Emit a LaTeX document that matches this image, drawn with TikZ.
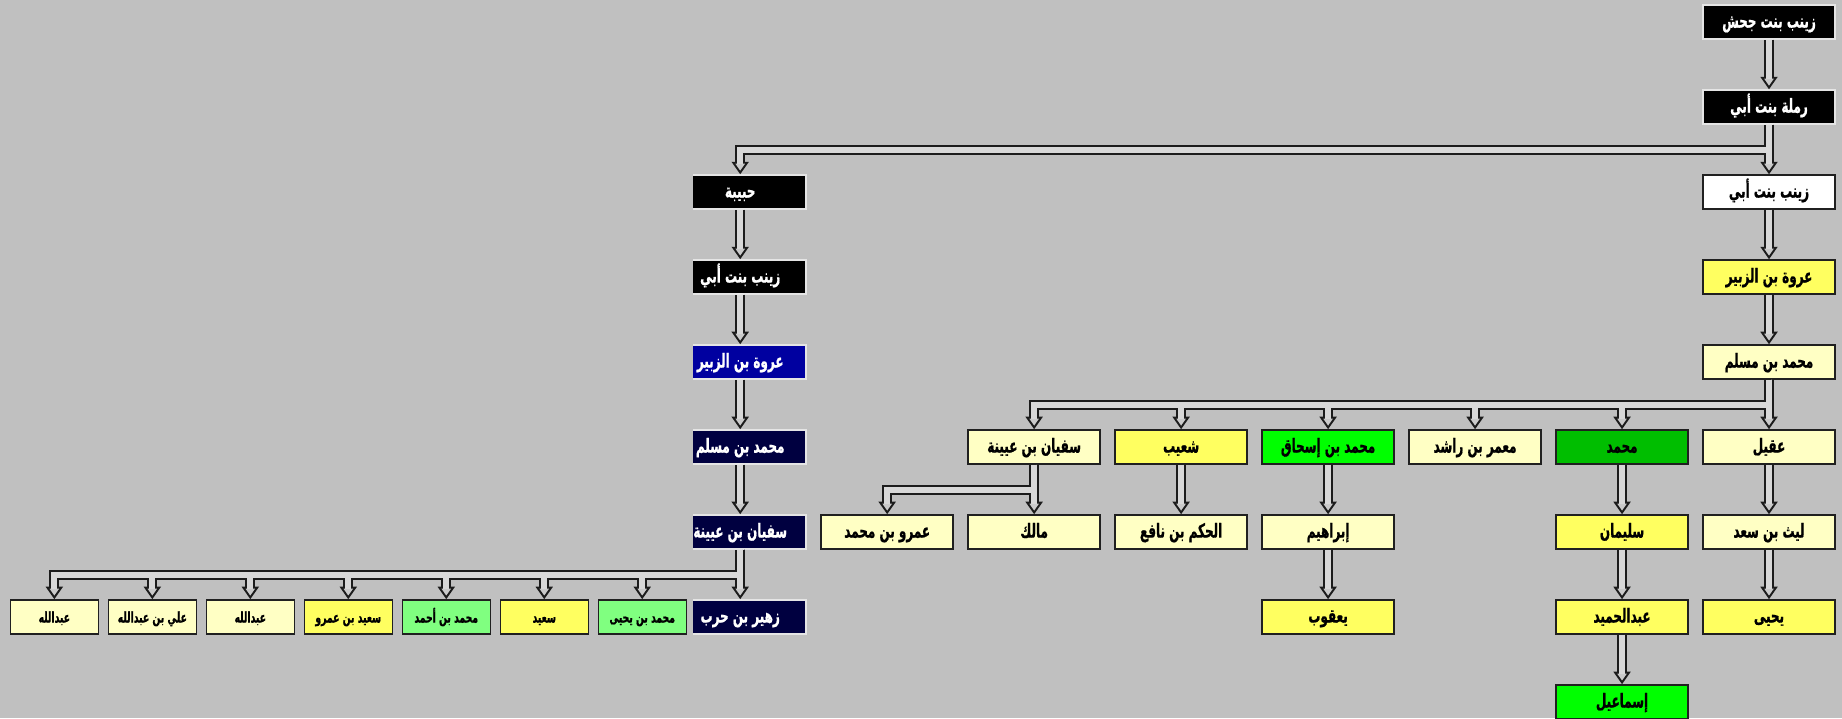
\documentclass[tikz,border=0pt]{standalone}
\usepackage{fontspec}
\newfontfamily\arabicfont[Script=Arabic, FakeStretch=0.62, BoldFeatures={FakeBold=0.8}]{DejaVu Sans}
\TeXXeTstate=1
\usetikzlibrary{arrows.meta}

\definecolor{bg}{HTML}{C0C0C0}
\definecolor{paleyellow}{HTML}{FFFFC4}
\definecolor{brightyellow}{HTML}{FFFF60}
\definecolor{darkgreen}{HTML}{00BE00}
\definecolor{limegreen}{HTML}{00FF00}
\definecolor{palegreen}{HTML}{80FF80}
\definecolor{royal}{HTML}{0000A0}
\definecolor{navyblue}{HTML}{000040}
\definecolor{pipeout}{HTML}{1C1C1C}
\definecolor{pipein}{HTML}{D8D8D8}
\definecolor{tipfill}{HTML}{CACACA}
\definecolor{boxline}{HTML}{202020}

\newcommand{\artext}[1]{\beginR #1\endR}

\tikzstyle{block} = [inner sep=0, rectangle, draw=boxline, line width=0.8pt, fill=paleyellow, text centered, text height=0.8em, text depth=0.15em, minimum width=2.64cm, minimum height=0.68cm, font=\arabicfont\bfseries\fontsize{11}{13}\selectfont, node distance=1.7cm]
\tikzstyle{dark_block} = [block, draw=gray!20, fill=black, text=white]
\tikzstyle{small_block} = [block, minimum width=1.76cm, font=\arabicfont\bfseries\fontsize{8.5}{10}\selectfont, node distance=1.96cm]
\tikzstyle{line} = [draw=pipeout, line width=0.2cm, -{Triangle[width=0.34cm, length=0.25cm, line width=1.1pt, fill=tipfill]}]
\tikzstyle{line_in} = [draw=pipein, line width=0.12cm, shorten >=0.2cm]

% every pipe, drawn once per pass (outline first, then the light core)
\newcommand{\pipes}[1]{%
\path [#1] (jahsh) -- (ramla);
\path [#1] (ramla) -- (zaynab_r);
\path [#1] (ramla.south) -- ++(0,-25.5) -| (habiba.north);
% left branch
\path [#1] (habiba) -- (zaynab_l);
\path [#1] (zaynab_l) -- (urwa_l);
\path [#1] (urwa_l) -- (muslim_l);
\path [#1] (muslim_l) -- (sufyan_l);
\path [#1] (sufyan_l) -- (zuhayr);
\foreach \n in {m_yahya,saeed,m_ahmad,saeed_amr,abdallah_a,ali,abdallah_b}
  \path [#1] (sufyan_l.south) -- ++(0,-25.5) -| (\n.north);
% right branch
\path [#1] (zaynab_r) -- (urwa_r);
\path [#1] (urwa_r) -- (muslim_r);
\path [#1] (muslim_r) -- (aqeel);
\foreach \n in {muhammad,maamar,ibn_ishaq,shuayb,sufyan_r}
  \path [#1] (muslim_r.south) -- ++(0,-25.5) -| (\n.north);
\path [#1] (aqeel) -- (layth);
\path [#1] (layth) -- (yahya);
\path [#1] (muhammad) -- (sulayman);
\path [#1] (sulayman) -- (abdulhamid);
\path [#1] (abdulhamid) -- (ismail);
\path [#1] (ibn_ishaq) -- (ibrahim);
\path [#1] (ibrahim) -- (yaqub);
\path [#1] (shuayb) -- (hakam);
\path [#1] (sufyan_r) -- (malik);
\path [#1] (sufyan_r.south) -- ++(0,-25.5) -| (amr.north);
}

\begin{document}
\begin{tikzpicture}[x=0.02cm, y=0.02cm]

\fill [bg] (0,0) rectangle (1842,-718);
\useasboundingbox (0,0) rectangle (1842,-718);

\node [dark_block] at (1769,-22) (jahsh) {\artext{زينب بنت جحش}};
\node [dark_block, below of=jahsh] (ramla) {\artext{رملة بنت أبي}};
\node [block, fill=white, below of=ramla] (zaynab_r) {\artext{زينب بنت أبي}};
\node [block, fill=brightyellow, below of=zaynab_r] (urwa_r) {\artext{عروة بن الزبير}};
\node [block, below of=urwa_r] (muslim_r) {\artext{محمد بن مسلم}};

\node [block, below of=muslim_r] (aqeel) {\artext{عقيل}};
\node [block, fill=darkgreen, left of=aqeel, node distance=2.94cm] (muhammad) {\artext{محمد}};
\node [block, left of=muhammad, node distance=2.94cm] (maamar) {\artext{معمر بن راشد}};
\node [block, fill=limegreen, left of=maamar, node distance=2.94cm] (ibn_ishaq) {\artext{محمد بن إسحاق}};
\node [block, fill=brightyellow, left of=ibn_ishaq, node distance=2.94cm] (shuayb) {\artext{شعيب}};
\node [block, left of=shuayb, node distance=2.94cm] (sufyan_r) {\artext{سفيان بن عيينة}};

\node [block, below of=aqeel] (layth) {\artext{ليث بن سعد}};
\node [block, fill=brightyellow, below of=muhammad] (sulayman) {\artext{سليمان}};
\node [block, below of=ibn_ishaq] (ibrahim) {\artext{إبراهيم}};
\node [block, below of=shuayb] (hakam) {\artext{الحكم بن نافع}};
\node [block, below of=sufyan_r] (malik) {\artext{مالك}};
\node [block, left of=malik, node distance=2.94cm] (amr) {\artext{عمرو بن محمد}};

\node [block, fill=brightyellow, below of=layth] (yahya) {\artext{يحيى}};
\node [block, fill=brightyellow, below of=sulayman] (abdulhamid) {\artext{عبدالحميد}};
\node [block, fill=brightyellow, below of=ibrahim] (yaqub) {\artext{يعقوب}};
\node [block, fill=limegreen, below of=abdulhamid] (ismail) {\artext{إسماعيل}};

% left column sits in a narrower pane
\begin{scope}
\clip (693,0) rectangle (1842,-718);
\node [dark_block, left of=zaynab_r, node distance=20.58cm] (habiba) {\artext{حبيبة}};
\node [dark_block, below of=habiba] (zaynab_l) {\artext{زينب بنت أبي}};
\node [dark_block, fill=royal, below of=zaynab_l] (urwa_l) {\artext{عروة بن الزبير}};
\node [dark_block, fill=navyblue, below of=urwa_l] (muslim_l) {\artext{محمد بن مسلم}};
\node [dark_block, fill=navyblue, below of=muslim_l] (sufyan_l) {\artext{سفيان بن عيينة}};
\node [dark_block, fill=navyblue, below of=sufyan_l] (zuhayr) {\artext{زهير بن حرب}};
\end{scope}

\node [small_block, fill=palegreen, left of=zuhayr] (m_yahya) {\artext{محمد بن يحيى}};
\node [small_block, fill=brightyellow, left of=m_yahya] (saeed) {\artext{سعيد}};
\node [small_block, fill=palegreen, left of=saeed] (m_ahmad) {\artext{محمد بن أحمد}};
\node [small_block, fill=brightyellow, left of=m_ahmad] (saeed_amr) {\artext{سعيد بن عمرو}};
\node [small_block, left of=saeed_amr] (abdallah_a) {\artext{عبدالله}};
\node [small_block, left of=abdallah_a] (ali) {\artext{علي بن عبدالله}};
\node [small_block, left of=ali] (abdallah_b) {\artext{عبدالله}};

\pipes{line}
\pipes{line_in}

\end{tikzpicture}
\end{document}
